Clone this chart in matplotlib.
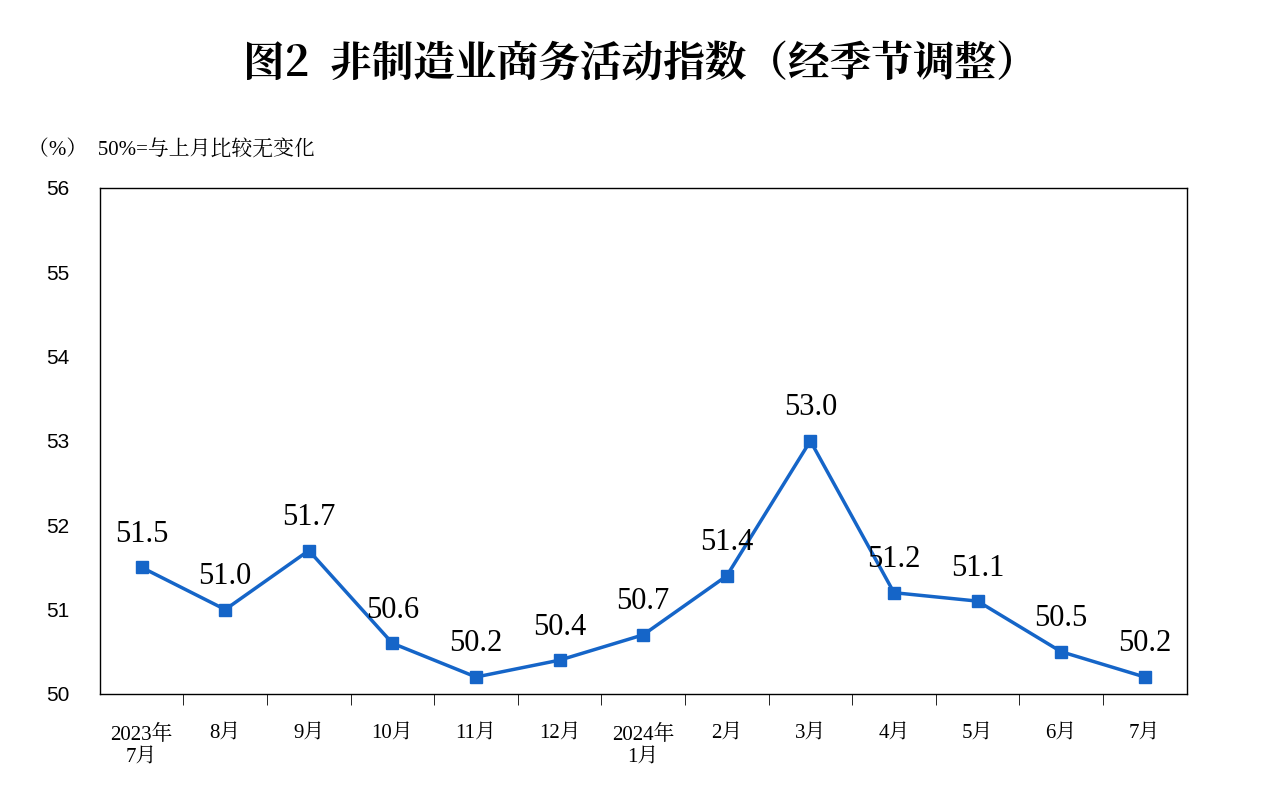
import matplotlib.pyplot as plt
from matplotlib import font_manager as fm
import numpy as np

months = ['2023年\n7月', '8月', '9月', '10月', '11月', '12月', '2024年\n1月',
          '2月', '3月', '4月', '5月', '6月', '7月']
values = [51.5, 51.0, 51.7, 50.6, 50.2, 50.4, 50.7, 51.4, 53.0, 51.2, 51.1, 50.5, 50.2]
yticks = [50, 51, 52, 53, 54, 55, 56]

# find a CJK font file and register it under its own name
cjk_name = 'Noto Sans CJK SC'
for f in fm.fontManager.ttflist:
    if 'CJK' in f.name or 'CJK' in f.fname:
        cjk_name = f.name
        break
for f in fm.findSystemFonts():
    if 'CJK' in f:
        try:
            fm.fontManager.addfont(f)
        except Exception:
            pass
mixed = ['Liberation Serif', cjk_name]
color = '#1565C8'

fig = plt.figure(figsize=(12.8, 7.93), dpi=100)
ax = fig.add_axes([0.078, 0.125, 0.849, 0.638])

x = np.arange(len(values))
ax.plot(x, values, color=color, lw=2.5, marker='s', ms=8, zorder=3)
for xi, v in zip(x, values):
    ax.text(xi, v + 0.22, f'{v:.1f}', ha='center', va='bottom',
            fontsize=22, family='Liberation Serif')

ax.set_xlim(-0.5, len(values) - 0.5)
ax.set_ylim(50, 56)
ax.set_yticks(yticks)
ax.set_yticklabels([str(t) for t in yticks], family='Liberation Sans', fontsize=15)
ax.tick_params(axis='y', length=0, pad=22)

ax.set_xticks(x)
ax.set_xticklabels(months, family=mixed, fontsize=15, va='top', linespacing=1.3)
ax.tick_params(axis='x', which='major', length=0, pad=22)
ax.set_xticks(np.arange(0.5, len(values) - 1, 1), minor=True)
ax.tick_params(axis='x', which='minor', length=8, direction='out')

for s in ax.spines.values():
    s.set_linewidth(1.0)

fig.text(0.5, 0.92, '图2  非制造业商务活动指数（经季节调整）', ha='center', va='center',
         fontsize=30, family=cjk_name, weight='bold')
fig.text(0.022, 0.81, '（%）  50%=与上月比较无变化', ha='left', va='center',
         fontsize=15, family=mixed)

fig.savefig('out.png', dpi=100)
